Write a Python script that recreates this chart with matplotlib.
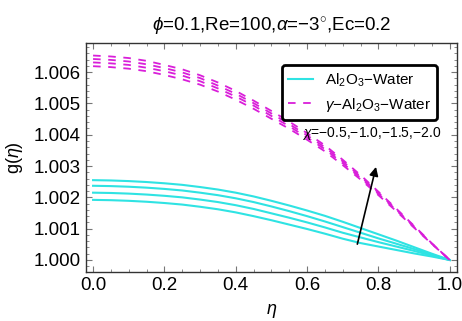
import numpy as np
import matplotlib
matplotlib.use("Agg")
import matplotlib.pyplot as plt
from matplotlib.ticker import MultipleLocator, FormatStrFormatter

plt.rcParams['font.family'] = ['Liberation Sans', 'DejaVu Sans']
plt.rcParams['mathtext.fontset'] = 'custom'
plt.rcParams['mathtext.rm'] = 'Liberation Sans'
plt.rcParams['mathtext.it'] = 'Liberation Sans:italic'
plt.rcParams['mathtext.fallback'] = 'cm'

# ---------------- data ----------------
eta = [0.00, 0.05, 0.10, 0.15, 0.20, 0.25, 0.30, 0.35, 0.40, 0.45, 0.50,
       0.55, 0.60, 0.65, 0.70, 0.75, 0.80, 0.85, 0.90, 0.95, 1.00]

# Al2O3-Water (solid cyan), chi = -2.0, -1.5, -1.0, -0.5 (top to bottom)
al_chi_2_0 = [1.00255, 1.00254, 1.00252, 1.00249, 1.00245, 1.00240, 1.00233, 1.00225, 1.00215, 1.00203, 1.00189,
              1.00174, 1.00158, 1.00141, 1.00122, 1.00102, 1.00082, 1.00062, 1.00041, 1.00020, 1.00000]
al_chi_1_5 = [1.00237, 1.00236, 1.00234, 1.00231, 1.00227, 1.00222, 1.00215, 1.00207, 1.00197, 1.00185, 1.00171,
              1.00156, 1.00140, 1.00123, 1.00105, 1.00087, 1.00069, 1.00052, 1.00035, 1.00017, 1.00000]
al_chi_1_0 = [1.00215, 1.00214, 1.00212, 1.00209, 1.00205, 1.00200, 1.00193, 1.00185, 1.00175, 1.00163, 1.00149,
              1.00135, 1.00120, 1.00104, 1.00087, 1.00072, 1.00057, 1.00043, 1.00029, 1.00014, 1.00000]
al_chi_0_5 = [1.00192, 1.00191, 1.00189, 1.00186, 1.00182, 1.00177, 1.00170, 1.00162, 1.00152, 1.00140, 1.00127,
              1.00113, 1.00099, 1.00084, 1.00068, 1.00054, 1.00043, 1.00032, 1.00021, 1.00011, 1.00000]

# gamma-Al2O3-Water (dashed magenta)
gal_chi_2_0 = [1.00653, 1.00650, 1.00645, 1.00636, 1.00623, 1.00609, 1.00590, 1.00567, 1.00540, 1.00509, 1.00476,
               1.00442, 1.00405, 1.00366, 1.00320, 1.00271, 1.00218, 1.00164, 1.00109, 1.00053, 1.00000]
gal_chi_1_5 = [1.00642, 1.00639, 1.00634, 1.00625, 1.00613, 1.00599, 1.00581, 1.00557, 1.00531, 1.00501, 1.00468,
               1.00434, 1.00398, 1.00360, 1.00315, 1.00266, 1.00215, 1.00161, 1.00107, 1.00052, 1.00000]
gal_chi_1_0 = [1.00631, 1.00628, 1.00623, 1.00614, 1.00603, 1.00589, 1.00571, 1.00548, 1.00522, 1.00493, 1.00460,
               1.00427, 1.00391, 1.00354, 1.00309, 1.00262, 1.00211, 1.00159, 1.00105, 1.00052, 1.00000]
gal_chi_0_5 = [1.00619, 1.00616, 1.00611, 1.00603, 1.00591, 1.00577, 1.00560, 1.00538, 1.00512, 1.00483, 1.00451,
               1.00419, 1.00384, 1.00347, 1.00303, 1.00257, 1.00207, 1.00156, 1.00103, 1.00051, 1.00000]

al_series = [al_chi_2_0, al_chi_1_5, al_chi_1_0, al_chi_0_5]
gal_series = [gal_chi_2_0, gal_chi_1_5, gal_chi_1_0, gal_chi_0_5]

xticks = [0.0, 0.2, 0.4, 0.6, 0.8, 1.0]
yticks = [1.000, 1.001, 1.002, 1.003, 1.004, 1.005, 1.006]

title = r"$\phi$=0.1,Re=100,$\alpha$=−3$^{\circ}$,Ec=0.2"
label_al = r"Al$_2$O$_3$−Water"
label_gal = r"$\gamma$−Al$_2$O$_3$−Water"
chi_text = r"$\chi$=−0.5,−1.0,−1.5,−2.0"

cyan = '#2fe3e3'
magenta = '#d91ed9'

# ---------------- figure ----------------
fig = plt.figure(figsize=(4.62, 3.21), dpi=100)
ax = fig.add_axes([0.186, 0.153, 0.803, 0.713])

h_gal = None
for s in gal_series:
    ln, = ax.plot(eta, s, color=magenta, lw=1.3, dashes=(4.2, 4.2), zorder=3)
    h_gal = h_gal or ln
h_al = None
for s in al_series:
    ln, = ax.plot(eta, s, color=cyan, lw=1.5, zorder=2)
    h_al = h_al or ln

ax.set_xlim(-0.02, 1.02)
ax.set_ylim(0.99962, 1.00693)
ax.set_xticks(xticks)
ax.set_yticks(yticks)
ax.xaxis.set_major_formatter(FormatStrFormatter('%.1f'))
ax.yaxis.set_major_formatter(FormatStrFormatter('%.3f'))
ax.xaxis.set_minor_locator(MultipleLocator(0.05))
ax.yaxis.set_minor_locator(MultipleLocator(0.0002))
ax.tick_params(which='both', direction='in', top=True, right=True, color='#777777')
ax.tick_params(which='major', length=4, width=0.8, labelsize=13.5, pad=4)
ax.tick_params(which='minor', length=2, width=0.6)
for sp in ax.spines.values():
    sp.set_color('#333333')
    sp.set_linewidth(1.0)

ax.set_title(title, fontsize=13.5, pad=8)
ax.set_xlabel(r"$\eta$", fontsize=13, va='center')
ax.set_ylabel(r"g($\eta$)", fontsize=13)
ax.xaxis.set_label_coords(0.5, -0.172)
ax.yaxis.set_label_coords(-0.165, 0.5)

leg = ax.legend([h_al, h_gal], [label_al, label_gal], loc='upper right',
                bbox_to_anchor=(0.968, 0.936), fontsize=11,
                handlelength=1.6, frameon=True, fancybox=True, borderpad=0.4,
                labelspacing=0.45, handletextpad=0.8)
leg.get_frame().set_edgecolor('black')
leg.get_frame().set_linewidth(2.0)
leg.get_frame().set_alpha(1.0)

ax.text(0.585, 1.00405, chi_text, fontsize=10, ha='left', va='center', zorder=5)
ax.annotate('', xy=(0.795, 1.00306), xytext=(0.739, 1.00042),
            arrowprops=dict(arrowstyle='-|>', color='black', lw=1.2, mutation_scale=13),
            zorder=6)

fig.savefig('out.png', dpi=100)
